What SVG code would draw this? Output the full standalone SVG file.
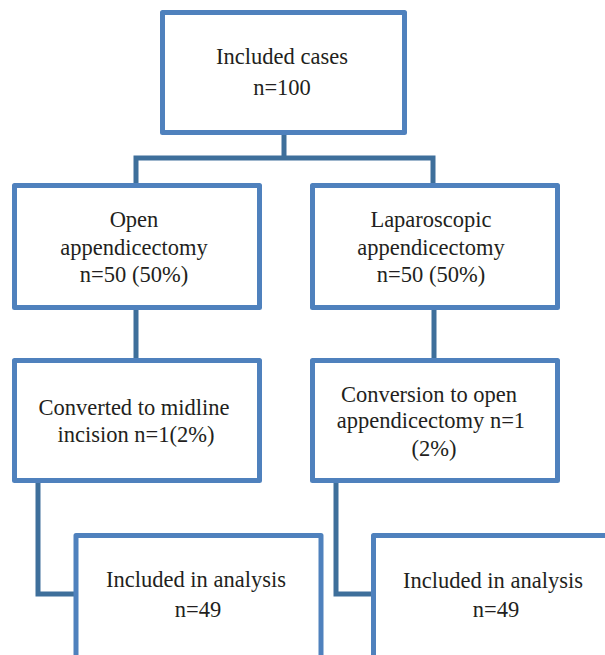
<svg xmlns="http://www.w3.org/2000/svg" width="605" height="655" viewBox="0 0 605 655">
<style>
.box{fill:#fff;stroke:#4f81bd;stroke-width:5;stroke-linejoin:round}
.conn{fill:none;stroke:#3e6f9b;stroke-width:5;stroke-linejoin:miter}
text{font-family:"Liberation Serif","Times New Roman",serif;font-size:22.5px;fill:#231f20;text-anchor:middle}
</style>
<rect width="605" height="655" fill="#fff"/>
<g id="connectors">
<path class="conn" d="M284,135 V158 M136,185 V158 H433 V185"/>
<path class="conn" d="M136,310 V360 M434,310 V360"/>
<path class="conn" d="M38,483 V594 H76"/>
<path class="conn" d="M336,483 V594 H373"/>
</g>
<g id="n-included">
<rect class="box" x="162.5" y="12.5" width="242" height="120"/>
<text x="282" y="64">Included cases</text>
<text x="282" y="95">n=100</text>
</g>
<g id="n-open">
<rect class="box" x="14.5" y="185.5" width="245" height="122"/>
<text x="134" y="227">Open</text>
<text x="134" y="255">appendicectomy</text>
<text x="134" y="282">n=50 (50%)</text>
</g>
<g id="n-lap">
<rect class="box" x="312.5" y="185.5" width="245" height="122"/>
<text x="431" y="227">Laparoscopic</text>
<text x="431" y="255">appendicectomy</text>
<text x="431" y="282">n=50 (50%)</text>
</g>
<g id="n-midline">
<rect class="box" x="14.5" y="360.5" width="245" height="120"/>
<text x="134" y="415">Converted to midline</text>
<text x="136" y="442">incision n=1(2%)</text>
</g>
<g id="n-conversion">
<rect class="box" x="312.5" y="360.5" width="245" height="120"/>
<text x="429" y="402">Conversion to open</text>
<text x="431" y="428">appendicectomy n=1</text>
<text x="434" y="456">(2%)</text>
</g>
<g id="n-analysis-left">
<rect class="box" x="76" y="535.5" width="245" height="130"/>
<text x="196" y="587">Included in analysis</text>
<text x="198" y="617">n=49</text>
</g>
<g id="n-analysis-right">
<rect class="box" x="373.5" y="535.5" width="245" height="130"/>
<text x="493" y="588">Included in analysis</text>
<text x="496" y="617">n=49</text>
</g>
</svg>
